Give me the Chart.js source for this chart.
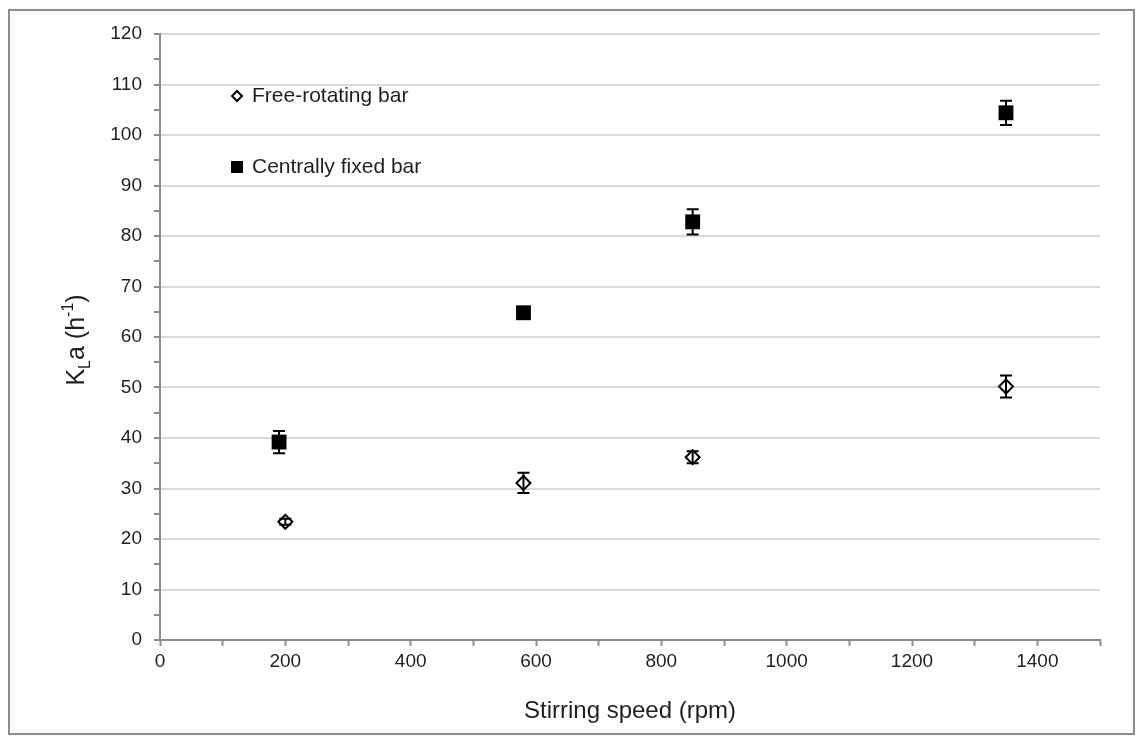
<!DOCTYPE html>
<html>
<head>
<meta charset="utf-8">
<script src="https://cdn.jsdelivr.net/npm/chart.js@4.4.0/dist/chart.umd.min.js"></script>
<style>
    html, body { margin: 0; padding: 0; background: #fff; }
    #wrap { position: relative; width: 1141px; height: 736px; }
    #frame {
        position: absolute; left: 8px; top: 9px; width: 1123px; height: 722px;
        border: 2px solid #8c8c8c; pointer-events: none;
    }
</style>
</head>
<body>
<div id="wrap">
    <canvas id="kla" width="1141" height="736"></canvas>
    <div id="frame"></div>
</div>
<script>
// stirring speed (rpm) and kLa values (h-1)
const freeSpeed = [200, 580, 850, 1350];
const freeKla = [23.4, 31.1, 36.2, 50.2];
const freeErr = [0.6, 2.0, 1.2, 2.2];

const fixedSpeed = [190, 580, 850, 1350];
const fixedKla = [39.2, 64.8, 82.8, 104.4];
const fixedErr = [2.2, 0.5, 2.5, 2.4];

const seriesNames = ["Free-rotating bar", "Centrally fixed bar"];

const textColor = "#1f1f1f";
const axisGray = "#8c8c8c";
const font = "Liberation Sans, Arial, sans-serif";

function toPoints(xs, ys) {
    return xs.map((x, i) => ({ x: x, y: ys[i] }));
}

// vertical error bars with caps, drawn through the chart scales
const errorBars = {
    id: "errorBars",
    afterDatasetsDraw(chart) {
        const ctx = chart.ctx;
        const xs = chart.scales.x, ys = chart.scales.y;
        ctx.save();
        ctx.strokeStyle = "#000";
        ctx.lineWidth = 2;
        chart.data.datasets.forEach(ds => {
            ds.data.forEach((p, i) => {
                const e = ds.errors[i];
                const px = xs.getPixelForValue(p.x);
                const top = ys.getPixelForValue(p.y + e);
                const bot = ys.getPixelForValue(p.y - e);
                ctx.beginPath();
                ctx.moveTo(px, top); ctx.lineTo(px, bot);
                ctx.moveTo(px - 6, top); ctx.lineTo(px + 6, top);
                ctx.moveTo(px - 6, bot); ctx.lineTo(px + 6, bot);
                ctx.stroke();
            });
        });
        ctx.restore();
    }
};

// legend inside the plot and the y title with sub/superscript
const extras = {
    id: "extras",
    afterDraw(chart) {
        const ctx = chart.ctx;
        const a = chart.chartArea;
        ctx.save();
        ctx.fillStyle = textColor;
        ctx.font = "21px " + font;
        ctx.textBaseline = "middle";

        // legend entry 1: open diamond
        let lx = a.left + 77, ly = 96;
        ctx.beginPath();
        ctx.moveTo(lx, ly - 5); ctx.lineTo(lx + 5, ly); ctx.lineTo(lx, ly + 5); ctx.lineTo(lx - 5, ly);
        ctx.closePath();
        ctx.lineWidth = 2; ctx.strokeStyle = "#000"; ctx.fillStyle = "#fff";
        ctx.fill(); ctx.stroke();
        ctx.fillStyle = textColor;
        ctx.fillText(seriesNames[0], lx + 15, ly);

        // legend entry 2: filled square
        ly = 167;
        ctx.fillStyle = "#000";
        ctx.fillRect(lx - 6, ly - 6, 12, 12);
        ctx.fillStyle = textColor;
        ctx.fillText(seriesNames[1], lx + 15, ly);

        // y axis title
        ctx.translate(75, 340);
        ctx.rotate(-Math.PI / 2);
        ctx.textBaseline = "alphabetic";
        ctx.textAlign = "left";
        const parts = [
            { t: "K", size: 25, dy: 0 },
            { t: "L", size: 16, dy: 6 },
            { t: "a (h", size: 25, dy: 0 },
            { t: "-1", size: 16, dy: -11 },
            { t: ")", size: 25, dy: 0 }
        ];
        let w = 0;
        parts.forEach(p => { ctx.font = p.size + "px " + font; w += ctx.measureText(p.t).width; });
        let cx = -w / 2;
        parts.forEach(p => {
            ctx.font = p.size + "px " + font;
            ctx.fillText(p.t, cx, 9 + p.dy);
            cx += ctx.measureText(p.t).width;
        });
        ctx.restore();
    }
};

new Chart(document.getElementById("kla").getContext("2d"), {
    type: "scatter",
    data: {
        datasets: [
            {
                label: seriesNames[0],
                data: toPoints(freeSpeed, freeKla),
                errors: freeErr,
                pointStyle: "rectRot",
                pointRadius: 7,
                pointHoverRadius: 7,
                borderWidth: 2,
                borderColor: "#000",
                backgroundColor: "#fff"
            },
            {
                label: seriesNames[1],
                data: toPoints(fixedSpeed, fixedKla),
                errors: fixedErr,
                pointStyle: "rect",
                pointRadius: 10.5,
                pointHoverRadius: 10.5,
                borderWidth: 0,
                borderColor: "#000",
                backgroundColor: "#000"
            }
        ]
    },
    options: {
        responsive: false,
        animation: false,
        layout: { padding: { left: 0, right: 41, top: 34, bottom: 0 } },
        plugins: {
            legend: { display: false },
            tooltip: { enabled: false }
        },
        scales: {
            x: {
                type: "linear",
                min: 0,
                max: 1500,
                afterFit: s => { s.height = 96; },
                grid: { drawOnChartArea: false, tickColor: axisGray, tickLength: 6, tickWidth: 2 },
                border: { color: axisGray, width: 2 },
                ticks: {
                    stepSize: 100,
                    autoSkip: false,
                    maxRotation: 0,
                    padding: 4,
                    color: textColor,
                    font: { family: font, size: 19 },
                    callback: v => (v % 200 === 0 ? v : "")
                },
                title: {
                    display: true,
                    text: "Stirring speed (rpm)",
                    color: textColor,
                    font: { family: font, size: 24 },
                    padding: { top: 4, bottom: 10 }
                }
            },
            y: {
                min: 0,
                max: 120,
                afterFit: s => { s.width = 160; },
                grid: {
                    color: c => (c.tick && c.tick.value % 10 === 0 ? "#d9d9d9" : "rgba(0,0,0,0)"),
                    lineWidth: 2,
                    tickColor: axisGray,
                    tickLength: 6,
                    tickWidth: 2
                },
                border: { color: axisGray, width: 2 },
                ticks: {
                    stepSize: 5,
                    autoSkip: false,
                    padding: 12,
                    color: textColor,
                    font: { family: font, size: 19 },
                    callback: v => (v % 10 === 0 ? v : "")
                }
            }
        }
    },
    plugins: [errorBars, extras]
});
</script>
</body>
</html>
